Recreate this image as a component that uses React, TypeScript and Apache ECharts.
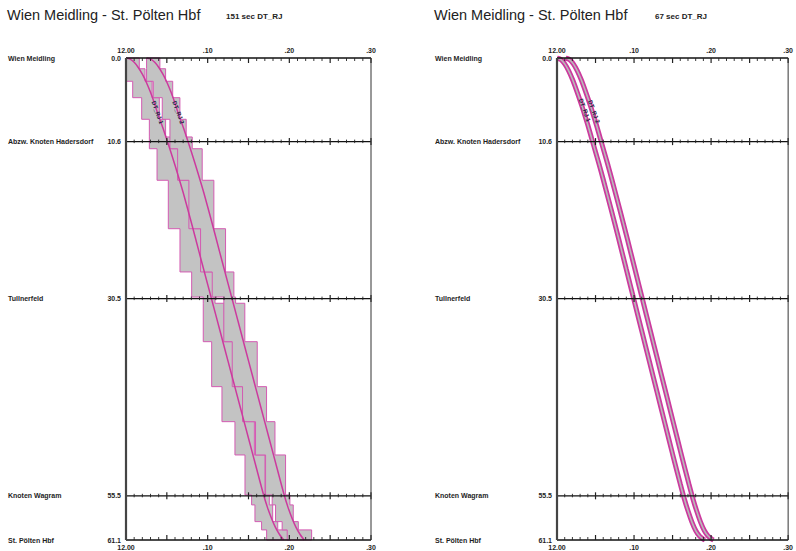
import React, { useEffect, useRef } from "react";
import * as echarts from "echarts";

// ---------- data ----------
const titleText = "Wien Meidling - St. Pölten Hbf";
const leftSubtitle = "151 sec DT_RJ";
const rightSubtitle = "67 sec DT_RJ";

const stationNames = ["Wien Meidling", "Abzw. Knoten Hadersdorf", "Tullnerfeld", "Knoten Wagram", "St. Pölten Hbf"];
const stationKm = [0.0, 10.6, 30.5, 55.5, 61.1];

const timeMin = 0;
const timeMax = 30;
const timeTicks = [0, 10, 20, 30];
const timeTickLabels = ["12.00", ".10", ".20", ".30"];

// block section boundaries (km)
const blockKm = [0, 1.36, 2.95, 5.03, 7.77, 10.01, 11.5, 15.5, 21.64, 27.12, 30.3, 31.09, 35.96, 41.66, 46.1, 50.32, 55.39, 56.65, 58.77, 59.82, 61.1];

// blocking times, minutes after 12:00 (left panel, 151 sec)
const train1BlockStart = [0, 0, 0.82, 1.92, 2.86, 2.86, 3.8, 5.18, 6.61, 8.04, 9.46, 9.46, 10.49, 11.75, 13.34, 14.57, 15.38, 15.79, 16.6, 17.22];
const train1BlockEnd = [1.63, 2.33, 3.2, 4.08, 4.85, 5.59, 6.81, 8.24, 9.67, 10.69, 10.9, 12.03, 13.55, 14.69, 15.72, 17.02, 17.55, 17.96, 18.58, 20.21];
const train2BlockStart = [2.52, 2.52, 3.34, 4.44, 5.38, 5.38, 6.32, 7.7, 9.13, 10.56, 11.98, 11.98, 13.01, 14.27, 15.86, 17.09, 17.9, 18.31, 19.12, 19.74];
const train2BlockEnd = [4.15, 4.85, 5.72, 6.6, 7.37, 8.11, 9.33, 10.76, 12.19, 13.21, 13.42, 14.55, 16.07, 17.21, 18.24, 19.54, 20.07, 20.48, 21.1, 22.73];

// running lines (left panel)
const runKm = [0, 0.15, 0.55, 1.2, 2.05, 3.1, 4.35, 5.8, 7.4, 8.8, 10.35, 11.95, 13.6, 15.3, 17.05, 20.85, 24.8, 28.7, 32.6, 36.5, 40.4, 44.3, 48.2, 52.1, 55.2, 56.9, 58.3, 59.5, 60.4, 61.1];
const train1Time = [0, 0.5, 1, 1.5, 2, 2.5, 3, 3.5, 4, 4.5, 5, 5.5, 6, 6.5, 7, 8, 9, 10, 11, 12, 13, 14, 15, 16, 16.8, 17.3, 17.8, 18.3, 18.8, 19.3];
const train2Time = [2.52, 3.02, 3.52, 4.02, 4.52, 5.02, 5.52, 6.02, 6.52, 7.02, 7.52, 8.02, 8.52, 9.02, 9.52, 10.52, 11.52, 12.52, 13.52, 14.52, 15.52, 16.52, 17.52, 18.52, 19.32, 19.82, 20.32, 20.82, 21.32, 21.82];

// blocking bands (right panel, 67 sec)
const bandKm = [0, 0.2, 0.75, 1.6, 2.7, 4.0, 5.4, 6.9, 8.5, 10.2, 11.9, 13.6, 15.4, 19.1, 22.9, 26.8, 30.7, 34.6, 38.5, 42.4, 46.3, 50.2, 54.0, 55.8, 57.4, 58.8, 59.9, 60.6, 61.0, 61.1];
const band1Time = [0, 0.5, 1, 1.5, 2, 2.5, 3, 3.5, 4, 4.5, 5, 5.5, 6, 7, 8, 9, 10, 11, 12, 13, 14, 15, 16, 16.5, 17, 17.5, 18, 18.5, 19, 19.2];
const band2Time = [1.12, 1.62, 2.12, 2.62, 3.12, 3.62, 4.12, 4.62, 5.12, 5.62, 6.12, 6.62, 7.12, 8.12, 9.12, 10.12, 11.12, 12.12, 13.12, 14.12, 15.12, 16.12, 17.12, 17.62, 18.12, 18.62, 19.12, 19.62, 20.12, 20.32];

const trainLabels = ["DT_RJ 1", "DT_RJ 2"];
const leftLabelTime = [3.85, 6.4];
const leftLabelKm = [6.9, 6.9];
const rightLabelTime = [3.6, 4.8];
const rightLabelKm = [6.6, 6.8];

// ---------- styling ----------
const FONT = '"Liberation Sans", Arial, Helvetica, sans-serif';
const PINK = "#cc3a9e";
const PINK_EDGE = "#d35bb2";
const GRAY = "#c3c3c3";
const INK = "#1e1e1e";

function stationSeries(gridIdx: number, nameX: number) {
  const last = stationKm.length - 1;
  return {
    type: "custom",
    coordinateSystem: "cartesian2d",
    xAxisIndex: gridIdx * 2,
    yAxisIndex: gridIdx,
    clip: false,
    silent: true,
    z: 5,
    data: stationKm.map((km) => [timeMin, km]),
    renderItem: (params: any, api: any) => {
      const i = params.dataIndex;
      const km = stationKm[i];
      const a = api.coord([timeMin, km]);
      const b = api.coord([timeMax, km]);
      const children: any[] = [
        {
          type: "line",
          shape: { x1: a[0], y1: a[1], x2: b[0], y2: b[1] },
          style: { stroke: "#111", lineWidth: 1.3 },
        },
      ];
      for (let m = timeMin; m <= timeMax; m++) {
        const p = api.coord([m, km]);
        const major = m % 5 === 0;
        let y1: number, y2: number;
        if (i === 0) {
          y1 = p[1];
          y2 = p[1] + (major ? 5 : 3);
        } else if (i === last) {
          y1 = p[1];
          y2 = p[1] - (major ? 5 : 3);
        } else {
          y1 = p[1] - (major ? 3.5 : 2);
          y2 = p[1] + (major ? 3.5 : 1.5);
        }
        children.push({
          type: "line",
          shape: { x1: p[0], y1, x2: p[0], y2 },
          style: { stroke: "#222", lineWidth: major ? 1.2 : 0.9 },
        });
      }
      children.push({
        type: "text",
        x: nameX,
        y: a[1],
        style: { text: stationNames[i], fill: INK, font: `bold 7px ${FONT}`, align: "left", verticalAlign: "middle" },
      });
      children.push({
        type: "text",
        x: a[0] - 5,
        y: a[1],
        style: { text: km.toFixed(1), fill: INK, font: `bold 7px ${FONT}`, align: "right", verticalAlign: "middle" },
      });
      return { type: "group", children };
    },
  };
}

function frameSeries(gridIdx: number) {
  return {
    type: "custom",
    coordinateSystem: "cartesian2d",
    xAxisIndex: gridIdx * 2,
    yAxisIndex: gridIdx,
    clip: false,
    silent: true,
    z: 6,
    data: [[timeMin, 0]],
    renderItem: (_p: any, api: any) => {
      const lastKm = stationKm[stationKm.length - 1];
      const a = api.coord([timeMin, 0]);
      const b = api.coord([timeMin, lastKm]);
      const c = api.coord([timeMax, 0]);
      const d = api.coord([timeMax, lastKm]);
      return {
        type: "group",
        children: [
          { type: "line", shape: { x1: a[0], y1: a[1], x2: b[0], y2: b[1] }, style: { stroke: "#444", lineWidth: 2.2 } },
          { type: "line", shape: { x1: c[0], y1: c[1], x2: d[0], y2: d[1] }, style: { stroke: "#333", lineWidth: 1 } },
        ],
      };
    },
  };
}

function blockSeries(starts: number[], ends: number[]) {
  return {
    type: "custom",
    coordinateSystem: "cartesian2d",
    xAxisIndex: 0,
    yAxisIndex: 0,
    silent: true,
    z: 2,
    data: [[starts[0], 0]],
    renderItem: (_p: any, api: any) => {
      const pts: number[][] = [];
      for (let i = 0; i < starts.length; i++) {
        pts.push(api.coord([starts[i], blockKm[i]]));
        pts.push(api.coord([starts[i], blockKm[i + 1]]));
      }
      for (let i = ends.length - 1; i >= 0; i--) {
        pts.push(api.coord([ends[i], blockKm[i + 1]]));
        pts.push(api.coord([ends[i], blockKm[i]]));
      }
      return {
        type: "polygon",
        shape: { points: pts },
        style: { fill: GRAY, stroke: PINK_EDGE, lineWidth: 1 },
      };
    },
  };
}

function labelSeries(gridIdx: number, times: number[], kms: number[]) {
  return {
    type: "custom",
    coordinateSystem: "cartesian2d",
    xAxisIndex: gridIdx * 2,
    yAxisIndex: gridIdx,
    silent: true,
    z: 8,
    data: times.map((t, i) => [t, kms[i]]),
    renderItem: (params: any, api: any) => {
      const i = params.dataIndex;
      const p = api.coord([times[i], kms[i]]);
      return {
        type: "text",
        x: p[0],
        y: p[1],
        rotation: (-70 * Math.PI) / 180,
        style: { text: trainLabels[i], fill: "#1b2442", font: `bold 6px ${FONT}`, align: "center", verticalAlign: "middle" },
      };
    },
  };
}

function runLine(times: number[], kms: number[], gridIdx: number, color: string, width: number, z: number) {
  return {
    type: "line",
    xAxisIndex: gridIdx * 2,
    yAxisIndex: gridIdx,
    data: times.map((t, i) => [t, kms[i]]),
    showSymbol: false,
    smooth: 0.25,
    silent: true,
    z,
    lineStyle: { color, width },
  };
}

function xAxes(gridIdx: number) {
  const fmt = (v: number) => {
    const i = timeTicks.indexOf(v);
    return i >= 0 ? timeTickLabels[i] : "";
  };
  const base = {
    type: "value",
    gridIndex: gridIdx,
    min: timeMin,
    max: timeMax,
    interval: 10,
    axisLine: { show: false },
    axisTick: { show: false },
    splitLine: { show: false },
  };
  return [
    { ...base, position: "top", axisLabel: { formatter: fmt, margin: 4, color: INK, fontSize: 7, fontWeight: "bold", fontFamily: FONT } },
    { ...base, position: "bottom", axisLabel: { formatter: fmt, margin: 4, color: INK, fontSize: 7, fontWeight: "bold", fontFamily: FONT } },
  ];
}

function yAxis(gridIdx: number) {
  return {
    type: "value",
    gridIndex: gridIdx,
    inverse: true,
    min: 0,
    max: stationKm[stationKm.length - 1],
    show: false,
  };
}

export default function App() {
  const ref = useRef<HTMLDivElement>(null);
  useEffect(() => {
    if (!ref.current) return;
    const chart = echarts.init(ref.current, undefined, { renderer: "svg" });
    chart.setOption({
      animation: false,
      backgroundColor: "#ffffff",
      title: [
        { text: titleText, left: 7, top: 7, padding: 0, textStyle: { fontSize: 14.5, fontWeight: "normal", color: "#222", fontFamily: FONT } },
        { text: leftSubtitle, left: 226, top: 12, padding: 0, textStyle: { fontSize: 8, fontWeight: "bold", color: "#222", fontFamily: FONT } },
        { text: titleText, left: 434, top: 7, padding: 0, textStyle: { fontSize: 14.5, fontWeight: "normal", color: "#222", fontFamily: FONT } },
        { text: rightSubtitle, left: 655, top: 12, padding: 0, textStyle: { fontSize: 8, fontWeight: "bold", color: "#222", fontFamily: FONT } },
      ],
      grid: [
        { left: 126, top: 58, width: 245, height: 482 },
        { left: 557, top: 58, width: 245, height: 482 },
      ],
      xAxis: [...xAxes(0), ...xAxes(1)],
      yAxis: [yAxis(0), yAxis(1)],
      series: [
        blockSeries(train1BlockStart, train1BlockEnd),
        blockSeries(train2BlockStart, train2BlockEnd),
        runLine(train1Time, runKm, 0, PINK, 1.5, 3),
        runLine(train2Time, runKm, 0, PINK, 1.5, 3),
        runLine(band1Time, bandKm, 1, PINK, 5, 3),
        runLine(band1Time, bandKm, 1, "#b9b9b9", 1.6, 4),
        runLine(band2Time, bandKm, 1, PINK, 5, 3),
        runLine(band2Time, bandKm, 1, "#b9b9b9", 1.6, 4),
        stationSeries(0, 8),
        stationSeries(1, 435),
        frameSeries(0),
        frameSeries(1),
        labelSeries(0, leftLabelTime, leftLabelKm),
        labelSeries(1, rightLabelTime, rightLabelKm),
      ],
    });
    return () => chart.dispose();
  }, []);
  return (
    <div
      ref={ref}
      style={{ position: "fixed", left: 0, top: 0, width: 796, height: 551, background: "#fff" }}
    />
  );
}
